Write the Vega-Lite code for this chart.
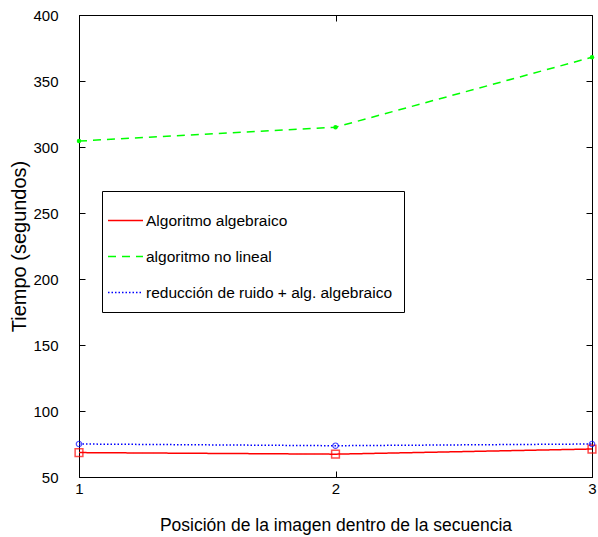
{
  "$schema": "https://vega.github.io/schema/vega-lite/v6.json",
  "width": 513,
  "height": 462,
  "autosize": "none",
  "padding": {"left": 79, "top": 15, "right": 6, "bottom": 60},
  "background": "white",
  "config": {
    "font": "Liberation Sans",
    "view": {"stroke": "black", "strokeWidth": 1},
    "axis": {
      "domainColor": "black",
      "domainWidth": 1,
      "tickColor": "black",
      "tickWidth": 1,
      "grid": false,
      "labelColor": "black",
      "labelFontSize": 15,
      "titleColor": "black",
      "titleFontWeight": "normal",
      "labelOverlap": false,
      "labelFlush": false
    }
  },
  "data": {
    "values": [
      {"serie": "Algoritmo algebraico", "pos": 1, "t": 68.5},
      {"serie": "Algoritmo algebraico", "pos": 2, "t": 67.3},
      {"serie": "Algoritmo algebraico", "pos": 3, "t": 71.2},
      {"serie": "algoritmo no lineal", "pos": 1, "t": 304.5},
      {"serie": "algoritmo no lineal", "pos": 2, "t": 315},
      {"serie": "algoritmo no lineal", "pos": 3, "t": 368},
      {"serie": "reducción de ruido + alg. algebraico", "pos": 1, "t": 75},
      {"serie": "reducción de ruido + alg. algebraico", "pos": 2, "t": 73.7},
      {"serie": "reducción de ruido + alg. algebraico", "pos": 3, "t": 75}
    ]
  },
  "resolve": {"axis": {"x": "independent", "y": "independent"}},
  "layer": [
    {
      "mark": {"type": "line", "strokeWidth": 1.5},
      "encoding": {
        "x": {
          "field": "pos", "type": "quantitative",
          "scale": {"domain": [1, 3], "nice": false},
          "axis": {"orient": "bottom", "values": [1, 2, 3], "tickCount": 3, "format": ".0f", "ticks": false, "labelOverlap": false, "labelPadding": 4, "title": "Posición de la imagen dentro de la secuencia", "titleFontSize": 17.5, "titlePadding": 20}
        },
        "y": {
          "field": "t", "type": "quantitative",
          "scale": {"domain": [50, 400], "nice": false},
          "axis": {"orient": "left", "values": [50, 100, 150, 200, 250, 300, 350, 400], "tickCount": 8, "ticks": false, "labelPadding": 21, "title": "Tiempo (segundos)", "titleFontSize": 20, "titlePadding": 3}
        },
        "color": {
          "field": "serie", "type": "nominal",
          "scale": {"domain": ["Algoritmo algebraico", "algoritmo no lineal", "reducción de ruido + alg. algebraico"], "range": ["#ff0000", "#00ff00", "#0000ff"]},
          "legend": {
            "title": null,
            "orient": "none",
            "legendX": 23,
            "legendY": 176,
            "symbolType": "stroke",
            "symbolSize": 1225,
            "symbolStrokeWidth": 1.5,
            "symbolOffset": -6,
            "labelFontSize": 15.5,
            "labelColor": "black",
            "labelOffset": 2,
            "labelLimit": 400,
            "rowPadding": 9,
            "padding": 11,
            "strokeColor": "black",
            "fillColor": "white"
          }
        },
        "strokeDash": {
          "field": "serie", "type": "nominal",
          "scale": {"domain": ["Algoritmo algebraico", "algoritmo no lineal", "reducción de ruido + alg. algebraico"], "range": [[1, 0], [8, 6], [1.5, 2]]},
          "legend": {
            "title": null,
            "orient": "none",
            "legendX": 23,
            "legendY": 176,
            "symbolType": "stroke",
            "symbolSize": 1225,
            "symbolStrokeWidth": 1.5,
            "symbolOffset": -8,
            "labelFontSize": 15.5,
            "labelColor": "black",
            "labelOffset": 2,
            "labelLimit": 400,
            "rowPadding": 9,
            "padding": 11,
            "strokeColor": "black",
            "fillColor": "white"
          }
        }
      }
    },
    {
      "transform": [{"filter": "datum.serie === 'Algoritmo algebraico'"}],
      "mark": {"type": "point", "shape": "square", "filled": false, "color": "#ff0000", "size": 60, "strokeWidth": 1.5},
      "encoding": {
        "x": {"field": "pos", "type": "quantitative", "scale": {"domain": [1, 3], "nice": false},
          "axis": {"orient": "bottom", "values": [1, 2, 3], "tickCount": 3, "labels": false, "domain": false, "ticks": true, "tickSize": 6, "offset": -6, "title": null}},
        "y": {"field": "t", "type": "quantitative", "scale": {"domain": [50, 400], "nice": false},
          "axis": {"orient": "left", "values": [50, 100, 150, 200, 250, 300, 350, 400], "tickCount": 8, "labels": false, "domain": false, "ticks": true, "tickSize": 6, "offset": -6, "title": null}}
      }
    },
    {
      "transform": [{"filter": "datum.serie === 'reducción de ruido + alg. algebraico'"}],
      "mark": {"type": "point", "shape": "circle", "filled": false, "color": "#0000ff", "size": 30, "strokeWidth": 1.2},
      "encoding": {
        "x": {"field": "pos", "type": "quantitative", "scale": {"domain": [1, 3], "nice": false},
          "axis": {"orient": "top", "values": [1, 2, 3], "tickCount": 3, "labels": false, "domain": false, "ticks": true, "tickSize": 6, "offset": -6, "title": null}},
        "y": {"field": "t", "type": "quantitative", "scale": {"domain": [50, 400], "nice": false},
          "axis": {"orient": "right", "values": [50, 100, 150, 200, 250, 300, 350, 400], "tickCount": 8, "labels": false, "domain": false, "ticks": true, "tickSize": 6, "offset": -6, "title": null}}
      }
    },
    {
      "transform": [{"filter": "datum.serie === 'algoritmo no lineal'"}],
      "mark": {"type": "point", "shape": "circle", "filled": true, "color": "#00ff00", "size": 20, "opacity": 1},
      "encoding": {
        "x": {"field": "pos", "type": "quantitative", "scale": {"domain": [1, 3], "nice": false}, "axis": null},
        "y": {"field": "t", "type": "quantitative", "scale": {"domain": [50, 400], "nice": false}, "axis": null}
      }
    }
  ]
}
